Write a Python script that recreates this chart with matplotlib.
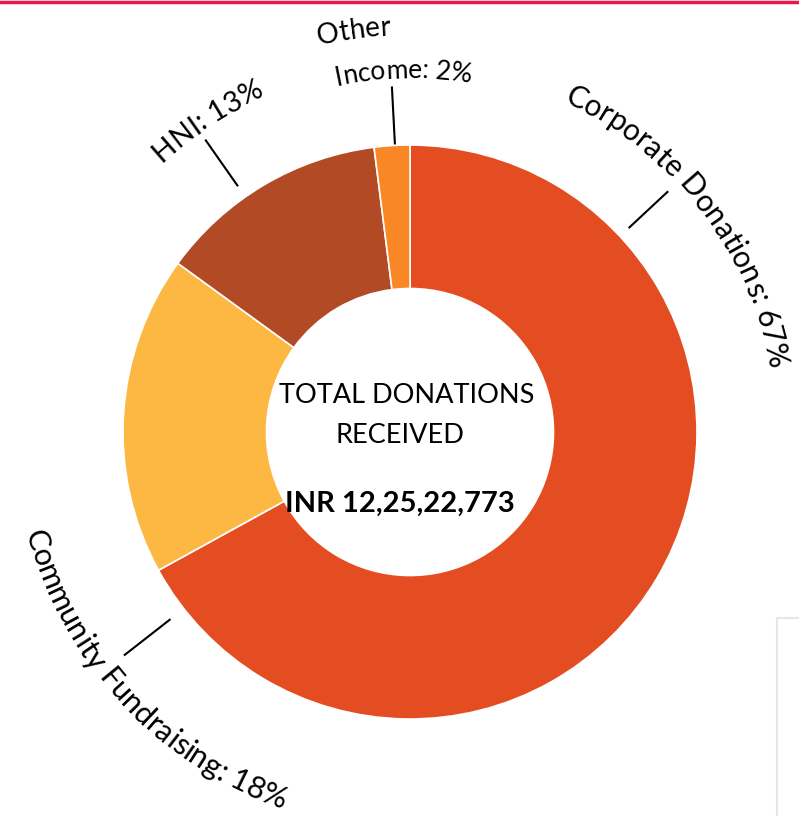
import numpy as np
import matplotlib.pyplot as plt
from matplotlib.font_manager import FontProperties

plt.rcParams['font.family'] = ['Lato', 'DejaVu Sans']

# donation split, clockwise from 12 o'clock
sources = ['Corporate Donations', 'Community Fundraising', 'HNI', 'Other Income']
shares = [67, 18, 13, 2]
colors = ['#E44D22', '#FDB843', '#B34A26', '#F98726']
total_text = 'INR 12,25,22,773'

W, H = 799, 816
CX, CY, R = 410, 432, 287   # pie centre and radius in pixels


def px(x, y):
    """pixel position -> data units of the full-figure axes"""
    return (x - CX) / R, (CY - y) / R


fig = plt.figure(figsize=(W / 100, H / 100), dpi=100)
ax = fig.add_axes([0, 0, 1, 1])

ax.pie(shares, colors=colors, startangle=90, counterclock=False, radius=1,
       wedgeprops=dict(width=0.5, edgecolor='white', linewidth=1.2))

# pie() resets limits and aspect, so set them afterwards
ax.set_xlim(-CX / R, (W - CX) / R)
ax.set_ylim(-(H - CY) / R, CY / R)
ax.set_aspect('auto')
ax.axis('off')

renderer = fig.canvas.get_renderer()


def text_width(s, size):
    fp = FontProperties(family='Lato', size=size)
    return renderer.get_text_width_height_descent(s, fp, ismath=False)[0]


def arc_text(s, angle, radius, size, tops_out=True):
    """write s letter by letter along a circle round the pie centre.
    angle: middle of the text (deg), radius: baseline radius (px)"""
    total = text_width(s, size)
    for i, ch in enumerate(s):
        if ch == ' ':
            continue
        mid = text_width(s[:i + 1], size) - text_width(ch, size) / 2
        off = (mid - total / 2) / radius
        if tops_out:
            phi = np.radians(angle) - off
            rot = np.degrees(phi) - 90
        else:
            phi = np.radians(angle) + off
            rot = np.degrees(phi) + 90
        ax.text(radius * np.cos(phi) / R, radius * np.sin(phi) / R, ch,
                rotation=rot, rotation_mode='anchor', ha='center',
                va='baseline', fontsize=size)


arc_text('Corporate Donations: 67%', 37.5, 364, 21.5)
arc_text('Community Fundraising: 18%', 223, 398, 22, tops_out=False)
arc_text('HNI: 13%', 123, 366, 21)
arc_text('Other', 98, 397, 20)
arc_text('Income: 2%', 91, 354, 19)

# leader lines: (angle, inner radius, outer radius) in px
for ang, r0, r1 in [(43, 300, 352), (-142, 305, 362), (125, 301, 356), (93, 289, 345)]:
    a = np.radians(ang)
    ax.plot([r0 / R * np.cos(a), r1 / R * np.cos(a)],
            [r0 / R * np.sin(a), r1 / R * np.sin(a)], color='black', lw=1.5)

# centre caption
ax.text(*px(407, 403), 'TOTAL DONATIONS', ha='center', va='baseline', fontsize=19.5)
ax.text(*px(400, 443), 'RECEIVED', ha='center', va='baseline', fontsize=19.5)
ax.text(*px(400, 512), total_text, ha='center', va='baseline', fontsize=21,
        fontweight='bold')

# page decorations: red rule on top, grey box edge bottom right
fig.add_artist(plt.Line2D([0, 1], [1 - 1.5 / H, 1 - 1.5 / H], color='#E8194A',
                          lw=2.5, transform=fig.transFigure))
fig.add_artist(plt.Line2D([777 / W, 777 / W, 1], [0, 1 - 618 / H, 1 - 618 / H],
                          color='#E6E6E6', lw=1.5, transform=fig.transFigure))

fig.savefig('out.png', dpi=100)
